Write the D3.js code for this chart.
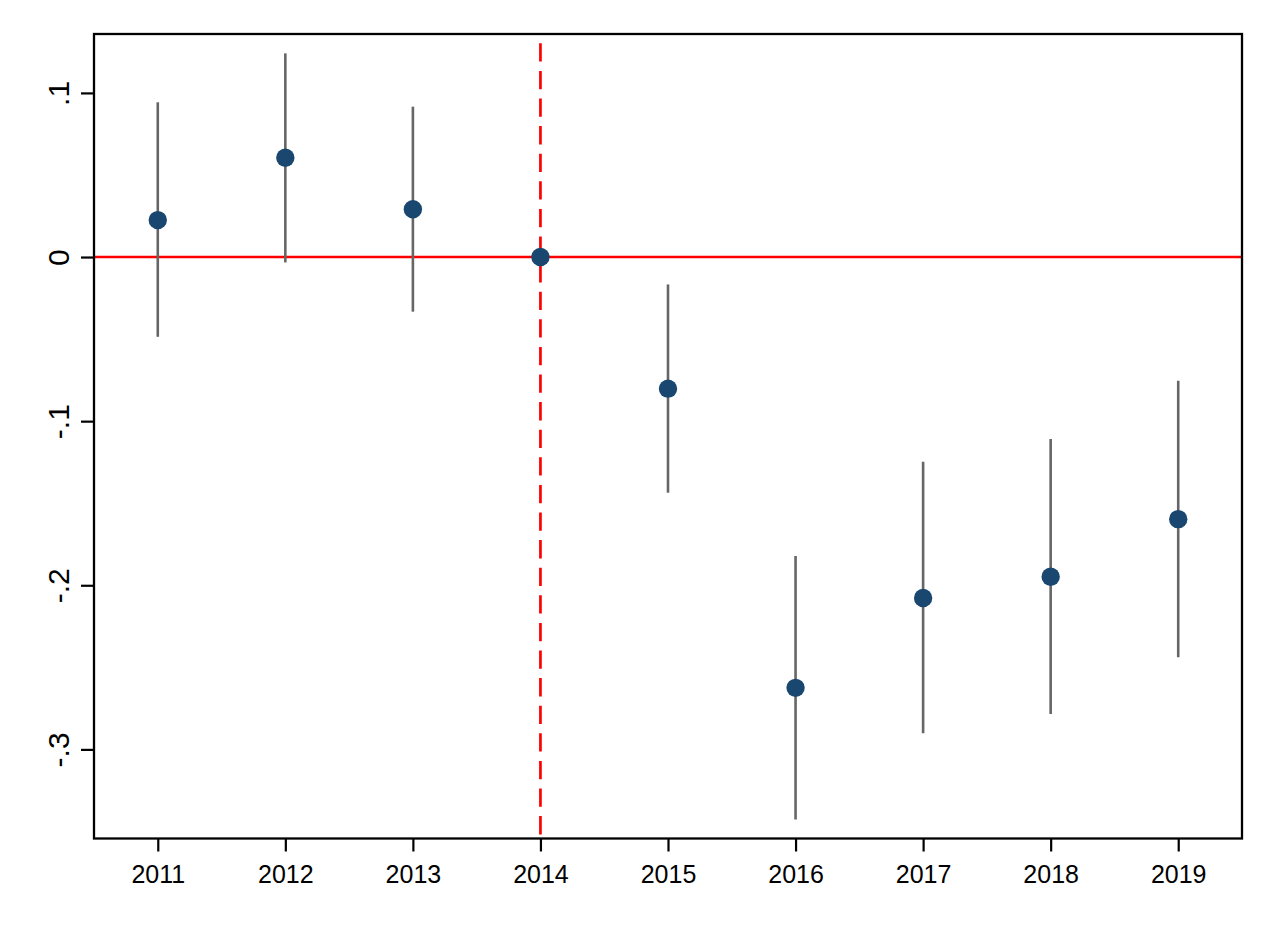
<!DOCTYPE html>
<html>
<head>
<meta charset="utf-8">
<script src="https://cdn.jsdelivr.net/npm/d3@7"></script>
<style>
  html, body { margin: 0; padding: 0; background: #fff; }
  svg { display: block; }
</style>
</head>
<body>
<svg id="chart" width="1276" height="928"></svg>
<script>
const years = [2011, 2012, 2013, 2014, 2015, 2016, 2017, 2018, 2019];
const estimates = [0.0225, 0.0605, 0.0291, 0, -0.0802, -0.2625, -0.2078, -0.1948, -0.1597];
const ciUpper = [0.0943, 0.1241, 0.0916, 0, -0.0167, -0.1822, -0.1247, -0.1109, -0.0754];
const ciLower = [-0.0486, -0.0033, -0.0333, 0, -0.1436, -0.3427, -0.2901, -0.2785, -0.2439];
const yTicks = [0.1, 0, -0.1, -0.2, -0.3];
const yTickLabels = [".1", "0", "-.1", "-.2", "-.3"];
const refYear = 2014;

const svg = d3.select("#chart");
const mLeft = 94, mRight = 1242, mTop = 34, mBottom = 838.5;

const x = d3.scaleLinear().domain([2010.5, 2019.5]).range([mLeft, mRight]);
const y = d3.scaleLinear().domain([0.1359, -0.3543]).range([mTop, mBottom]);

svg.append("rect").attr("width", 1276).attr("height", 928).attr("fill", "#fff");

// reference lines
svg.append("line")
  .attr("x1", mLeft).attr("x2", mRight)
  .attr("y1", y(0)).attr("y2", y(0))
  .attr("stroke", "#ff0000").attr("stroke-width", 2.5);

svg.append("line")
  .attr("x1", x(refYear)).attr("x2", x(refYear))
  .attr("y1", mTop).attr("y2", mBottom)
  .attr("stroke", "#ff0000").attr("stroke-width", 2.7)
  .attr("stroke-dasharray", "18.3,9.3")
  .attr("stroke-dashoffset", 18.3);

// error bars
const data = years.map((yr, i) => ({yr, est: estimates[i], lo: ciLower[i], hi: ciUpper[i]}));
svg.append("g").selectAll("line").data(data.filter(d => d.hi !== d.lo)).join("line")
  .attr("x1", d => x(d.yr)).attr("x2", d => x(d.yr))
  .attr("y1", d => y(d.hi)).attr("y2", d => y(d.lo))
  .attr("stroke", "#666666").attr("stroke-width", 2.6);

// points
svg.append("g").selectAll("circle").data(data).join("circle")
  .attr("cx", d => x(d.yr)).attr("cy", d => y(d.est))
  .attr("r", 9.2).attr("fill", "#1a476f");

// axes
const yAxis = d3.axisLeft(y).tickValues(yTicks)
  .tickFormat((d, i) => yTickLabels[i]).tickSize(13).tickPadding(0);
const gy = svg.append("g").attr("transform", `translate(${mLeft},0)`).call(yAxis);
gy.select(".domain").remove();
gy.selectAll(".tick line").attr("stroke", "#000").attr("stroke-width", 2.2);
gy.selectAll(".tick text")
  .attr("x", null).attr("dy", null)
  .attr("transform", "translate(-25,0) rotate(-90)")
  .attr("text-anchor", "middle")
  .style("font-family", "'Liberation Sans', Arial, sans-serif")
  .style("font-size", "30px").attr("fill", "#000");

const xAxis = d3.axisBottom(x).tickValues(years)
  .tickFormat(d3.format("d")).tickSize(13).tickPadding(0);
const gx = svg.append("g").attr("transform", `translate(0,${mBottom})`).call(xAxis);
gx.select(".domain").remove();
gx.selectAll(".tick line").attr("stroke", "#000").attr("stroke-width", 2.2);
gx.selectAll(".tick text")
  .attr("y", 44.5).attr("dy", null)
  .style("font-family", "'Liberation Sans', Arial, sans-serif")
  .style("font-size", "25px").attr("fill", "#000");

// frame
svg.append("rect")
  .attr("x", mLeft).attr("y", mTop)
  .attr("width", mRight - mLeft).attr("height", mBottom - mTop)
  .attr("fill", "none").attr("stroke", "#000").attr("stroke-width", 2.3);
</script>
</body>
</html>
